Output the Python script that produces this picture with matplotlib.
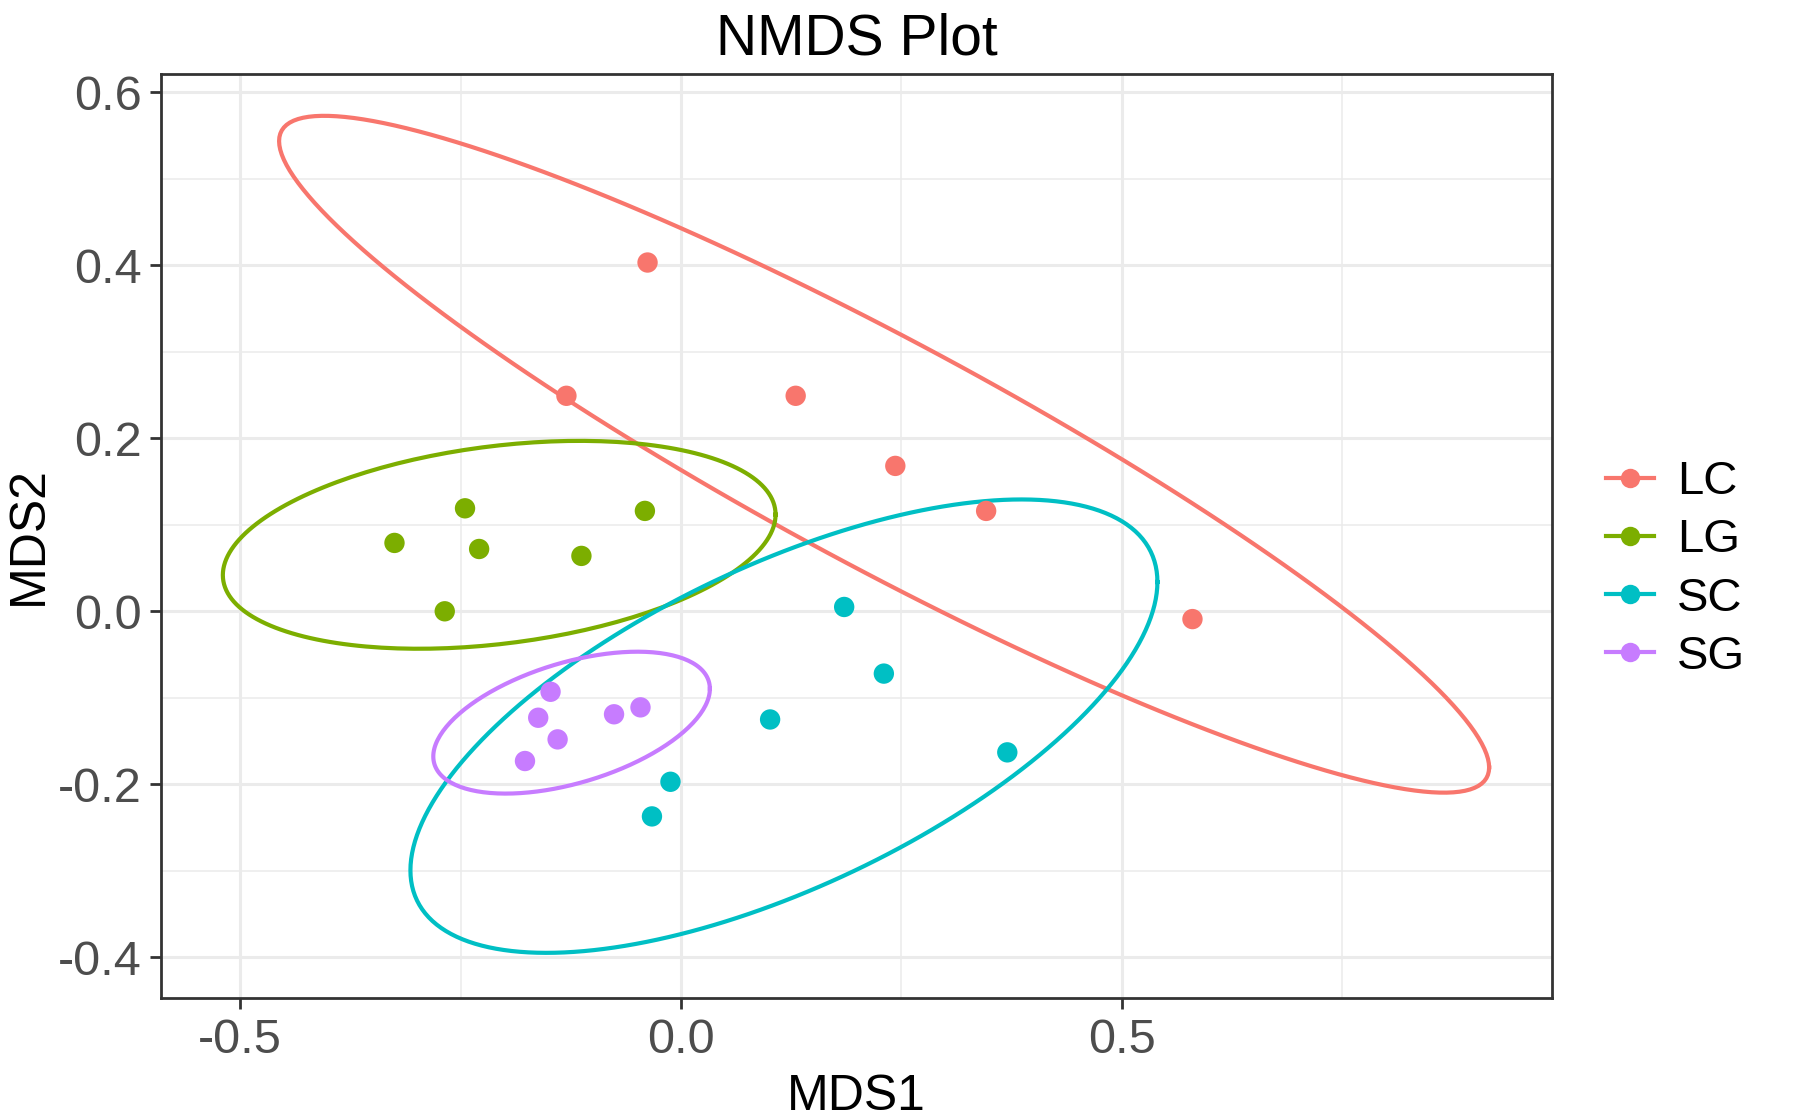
import numpy as np
import matplotlib.pyplot as plt
from matplotlib.lines import Line2D

"""
NMDS ordination plot with 95% t ellipses per group (ggplot2 look).
"""

groups = ["LC", "LG", "SC", "SG"]
colors = ["#F8766D", "#7CAE00", "#00BFC4", "#C77CFF"]

lc_x = [-0.038, -0.130, 0.130, 0.243, 0.346, 0.580]
lc_y = [0.403, 0.249, 0.249, 0.168, 0.116, -0.009]
lg_x = [-0.325, -0.245, -0.229, -0.113, -0.041, -0.268]
lg_y = [0.079, 0.119, 0.072, 0.064, 0.116, 0.000]
sc_x = [0.185, 0.230, 0.101, 0.370, -0.012, -0.033]
sc_y = [0.005, -0.072, -0.125, -0.163, -0.197, -0.237]
sg_x = [-0.148, -0.162, -0.076, -0.046, -0.140, -0.177]
sg_y = [-0.093, -0.123, -0.119, -0.111, -0.148, -0.173]

xs = [lc_x, lg_x, sc_x, sg_x]
ys = [lc_y, lg_y, sc_y, sg_y]

xticks = [-0.5, 0.0, 0.5]
yticks = [-0.4, -0.2, 0.0, 0.2, 0.4, 0.6]


"""!
Robust t covariance, same steps as MASS::cov.trob.
"""
def cov_trob(pts, nu=5, maxit=25, tol=0.01):
    n, p = pts.shape
    wt = np.ones(n)
    loc = pts.mean(axis=0)
    w = np.sqrt(wt)
    for it in range(maxit):
        w0 = w
        X = pts - loc
        _, d, vt = np.linalg.svd(np.sqrt(w / w.sum())[:, None] * X, full_matrices=False)
        wX = X @ vt.T @ np.diag(1 / d)
        Q = (wX ** 2).sum(axis=1)
        w = wt * (nu + p) / (nu + Q)
        loc = (w[:, None] * pts).sum(axis=0) / w.sum()
        if np.all(np.abs(w - w0) < tol):
            break
    cov = (np.sqrt(w)[:, None] * X).T @ (np.sqrt(w)[:, None] * X) / wt.sum()
    return cov, loc


def ellipse(x, y, qf95=5.786135, segments=200):
    pts = np.column_stack([x, y])
    cov, center = cov_trob(pts)
    chol = np.linalg.cholesky(cov).T
    radius = np.sqrt(2 * qf95)
    ang = np.arange(segments + 1) * 2 * np.pi / segments
    circle = np.column_stack([np.cos(ang), np.sin(ang)])
    e = center + radius * circle @ chol
    return e[:, 0], e[:, 1]


plt.rcParams['font.family'] = ['Liberation Sans', 'DejaVu Sans']
fig = plt.figure(figsize=(18.07, 11.19), dpi=100)
ax = fig.add_axes([0.089, 0.108, 0.770, 0.826])

for g, c, x, y in zip(groups, colors, xs, ys):
    ex, ey = ellipse(x, y)
    ax.plot(ex, ey, color=c, lw=3.0, zorder=3)
    ax.scatter(x, y, s=215, color=c, edgecolors='none', zorder=4)

ax.set_xlim(-0.59, 0.988)
ax.set_ylim(-0.447, 0.621)
ax.set_xticks(xticks)
ax.set_xticklabels(["-0.5", "0.0", "0.5"])
ax.set_yticks(yticks)
ax.set_yticklabels(["-0.4", "-0.2", "0.0", "0.2", "0.4", "0.6"])
ax.set_xticks([-0.25, 0.25, 0.75], minor=True)
ax.set_yticks([-0.3, -0.1, 0.1, 0.3, 0.5], minor=True)
ax.grid(which='major', color='#EBEBEB', lw=2.2, zorder=0)
ax.grid(which='minor', color='#EBEBEB', lw=1.1, zorder=0)
ax.set_axisbelow(True)
ax.tick_params(which='major', length=8, width=2, color='#333333',
               labelsize=35, labelcolor='#4D4D4D', pad=6)
ax.tick_params(which='minor', length=0)
for s in ax.spines.values():
    s.set_color('#333333')
    s.set_linewidth(2)

ax.set_xlabel("MDS1", fontsize=36, labelpad=8)
ax.set_ylabel("MDS2", fontsize=36, labelpad=4)
ax.set_title("NMDS Plot", fontsize=41, pad=14)

handles = [Line2D([0], [0], color=c, lw=3.0, marker='o', markersize=14,
                  markeredgewidth=0) for c in colors]
ax.legend(handles, groups, loc='center left', bbox_to_anchor=(0.889, 0.491),
          bbox_transform=fig.transFigure, borderaxespad=0, borderpad=0,
          frameon=False, fontsize=34, handlelength=1.0, handletextpad=0.5,
          labelspacing=0.3)

fig.savefig("out.png", dpi=100)
